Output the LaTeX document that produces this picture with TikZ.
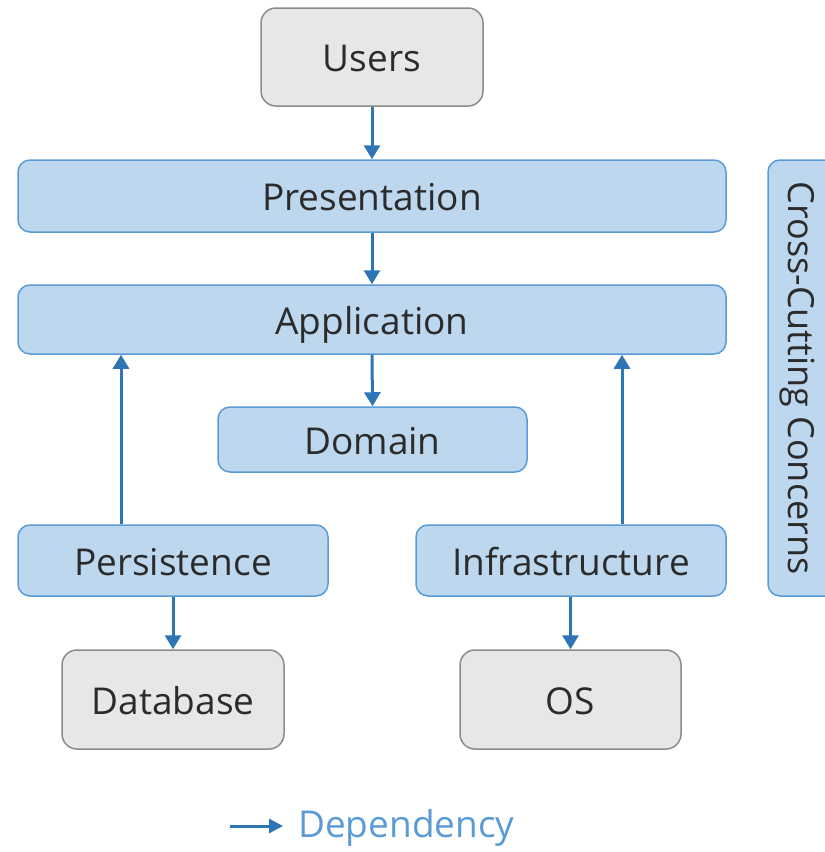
\documentclass[tikz,border=0pt]{standalone}
\usepackage{fontspec}
\setmainfont{Open Sans}
\usetikzlibrary{arrows.meta}
\definecolor{bfill}{HTML}{BDD7EE}
\definecolor{bdraw}{HTML}{5B9BD5}
\definecolor{gfill}{HTML}{E7E7E7}
\definecolor{gdraw}{HTML}{8C8C8C}
\definecolor{arr}{HTML}{2E75B6}
\definecolor{txt}{HTML}{2B2B2B}
\definecolor{legtxt}{HTML}{5B9BD5}
\begin{document}
\begin{tikzpicture}[x=1pt,y=-1pt,
  layer/.style={draw=bdraw,fill=bfill,line width=1.5pt,rounded corners=12pt,inner sep=0pt,text=txt,font=\fontsize{37}{40}\selectfont,text depth=0pt,text height=29pt},
  ext/.style={draw=gdraw,fill=gfill,line width=1.5pt,rounded corners=15pt,inner sep=0pt,text=txt,font=\fontsize{37}{40}\selectfont,text depth=0pt,text height=29pt},
  dep/.style={draw=arr,line width=3pt,-{Triangle[length=14pt,width=16pt]}}]
\useasboundingbox (0,0) rectangle (825,852);
\begin{scope}
\clip (0,0) rectangle (825,852);
\node[ext,minimum width=222pt,minimum height=98pt] (users) at (372,57) {Users};
\node[layer,minimum width=708pt,minimum height=72pt] (pres) at (372,196) {Presentation};
\node[layer,minimum width=708pt,minimum height=69pt] (app) at (372,319.5) {Application};
\node[layer,minimum width=309pt,minimum height=65pt] (dom) at (372.5,439.5) {Domain};
\node[layer,minimum width=310pt,minimum height=71pt] (pers) at (173,560.5) {Persistence};
\node[layer,minimum width=310pt,minimum height=71pt] (infra) at (571,560.5) {Infrastructure};
\node[ext,minimum width=222pt,minimum height=99pt] (db) at (173,699.5) {Database};
\node[ext,minimum width=221pt,minimum height=99pt] (os) at (570.5,699.5) {OS};
\node[layer,minimum width=436pt,minimum height=100pt,rotate=-90] (cross) at (818,378) {};
\node[text=txt,font=\fontsize{36}{38}\selectfont,rotate=-90] (crosstxt) at (797,378) {Cross-Cutting Concerns};
\end{scope}
\draw[dep] (users.south) -- (pres.north);
\draw[dep] (pres.south) -- (app.north);
\draw[dep] (app.south) -- (dom.north);
\draw[dep] (pers.north -| 121,0) -- (app.south -| 121,0);
\draw[dep] (infra.north -| 622,0) -- (app.south -| 622,0);
\draw[dep] (pers.south) -- (db.north);
\draw[dep] (infra.south -| os.north) -- (os.north);
\coordinate (l1) at (230,826);
\coordinate (l2) at (283,826);
\node[anchor=west,inner sep=0pt,text=legtxt,font=\fontsize{37}{40}\selectfont] (leg) at (298,828) {Dependency};
\draw[dep,-{Triangle[length=14pt,width=14pt]}] (l1) -- (l2);
\end{tikzpicture}
\end{document}
